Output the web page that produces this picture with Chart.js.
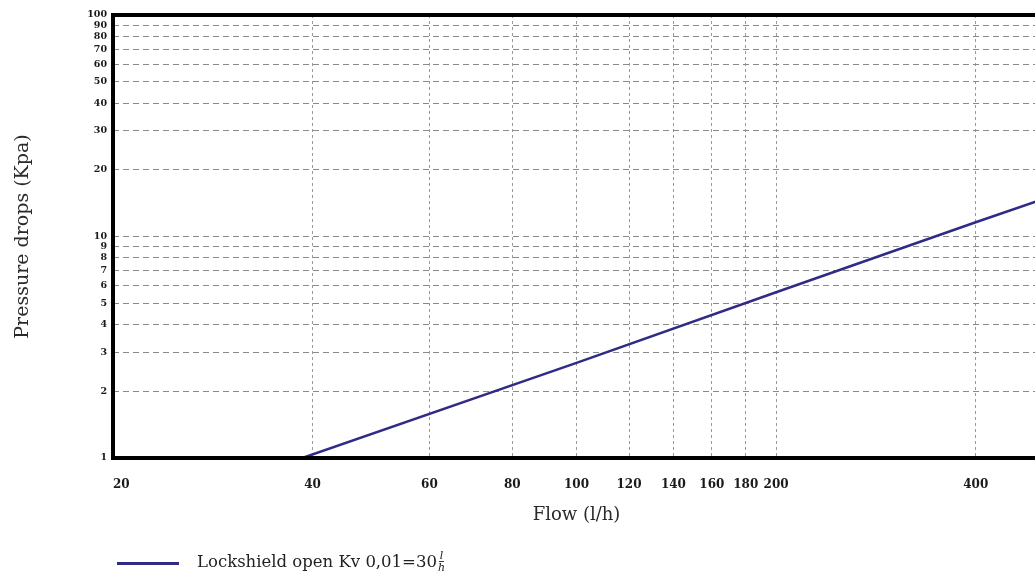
<!DOCTYPE html>
<html>
<head>
<meta charset="utf-8">
<script src="https://cdn.jsdelivr.net/npm/chart.js@4/dist/chart.umd.min.js"></script>
<style>
  html, body { margin: 0; padding: 0; background: #fff; overflow: hidden; width: 1035px; height: 579px; }
  #wrap { position: relative; width: 1045px; height: 579px; }
  #legend { position: absolute; left: 117px; top: 550px; display: flex; align-items: center;
            font-family: 'DejaVu Serif', serif; font-size: 16.5px; color: #222; white-space: nowrap; }
  #legend .swatch { display: inline-block; width: 62px; height: 2.5px; background: #302b84; margin-right: 18px; position: relative; top: 2px; }
  .frac { display: inline-flex; flex-direction: column; align-items: center; vertical-align: middle;
          font-style: italic; font-size: 11px; line-height: 11px; margin-left: 1px; }
  .frac .num { border-bottom: 1px solid #333; padding: 0 1px; }
</style>
</head>
<body>
<div id="wrap">
  <canvas id="c" width="1045" height="579"></canvas>
  <div id="legend"><span class="swatch"></span><span>Lockshield open Kv 0,01=30</span><span class="frac"><span class="num">l</span><span>h</span></span></div>
</div>
<script>
// ---- data ----
const flowValues = [38.6, 100, 200, 400, 500];       // l/h
const pressureValues = [1, 2.69, 5.6, 11.6, 14.6];    // kPa
const xTickValues = [20, 40, 60, 80, 100, 120, 140, 160, 180, 200, 400];
const yTickValues = [1, 2, 3, 4, 5, 6, 7, 8, 9, 10, 20, 30, 40, 50, 60, 70, 80, 90, 100];
const seriesLabel = 'Lockshield open Kv 0,01=30 l/h';
const xTitle = 'Flow (l/h)';
const yTitle = 'Pressure drops (Kpa)';

const points = flowValues.map((f, i) => ({ x: f, y: pressureValues[i] }));

const frame = {
  id: 'frame',
  afterDatasetsDraw(chart) {
    const { ctx, chartArea: a } = chart;
    ctx.save();
    ctx.strokeStyle = '#000';
    ctx.lineWidth = 4;
    ctx.strokeRect(a.left, a.top, a.right - a.left, a.bottom - a.top);
    ctx.restore();
  }
};

new Chart(document.getElementById('c'), {
  type: 'line',
  data: {
    datasets: [{
      label: seriesLabel,
      data: points,
      borderColor: '#302b84',
      borderWidth: 2.5,
      pointRadius: 0,
      tension: 0
    }]
  },
  options: {
    responsive: false,
    animation: false,
    layout: { padding: { left: 0, top: 15, right: 5, bottom: 41 } },
    plugins: { legend: { display: false }, tooltip: { enabled: false } },
    scales: {
      x: {
        type: 'logarithmic',
        min: 20, max: 500,
        afterBuildTicks: s => { s.ticks = xTickValues.map(v => ({ value: v })); },
        afterFit: s => { s.height = 80; },
        grid: { color: '#999', lineWidth: 1, drawTicks: false },
        border: { display: false, dash: [3, 3] },
        ticks: {
          autoSkip: false, maxRotation: 0, padding: 20, color: '#1a1a1a',
          font: { family: 'DejaVu Serif', size: 12, weight: 'bold' },
          callback: (v) => v === 20 ? '    20' : String(v)
        },
        title: {
          display: true, text: xTitle, color: '#2a2a2a',
          font: { family: 'DejaVu Serif', size: 18 },
          padding: { top: 0, bottom: 12 }
        }
      },
      y: {
        type: 'logarithmic',
        min: 1, max: 100,
        afterBuildTicks: s => { s.ticks = yTickValues.map(v => ({ value: v })); },
        afterFit: s => { s.width = 113; },
        grid: { color: '#8a8a8a', lineWidth: 1, drawTicks: false },
        border: { display: false, dash: [6, 4] },
        ticks: {
          autoSkip: false, padding: 6, color: '#1a1a1a',
          font: { family: 'DejaVu Serif', size: 9.5, weight: 'bold' },
          callback: (v) => String(v)
        },
        title: {
          display: true, text: yTitle, color: '#2a2a2a',
          font: { family: 'DejaVu Serif', size: 19 },
          padding: { top: 12, bottom: 0 }
        }
      }
    }
  },
  plugins: [frame]
});
</script>
</body>
</html>
